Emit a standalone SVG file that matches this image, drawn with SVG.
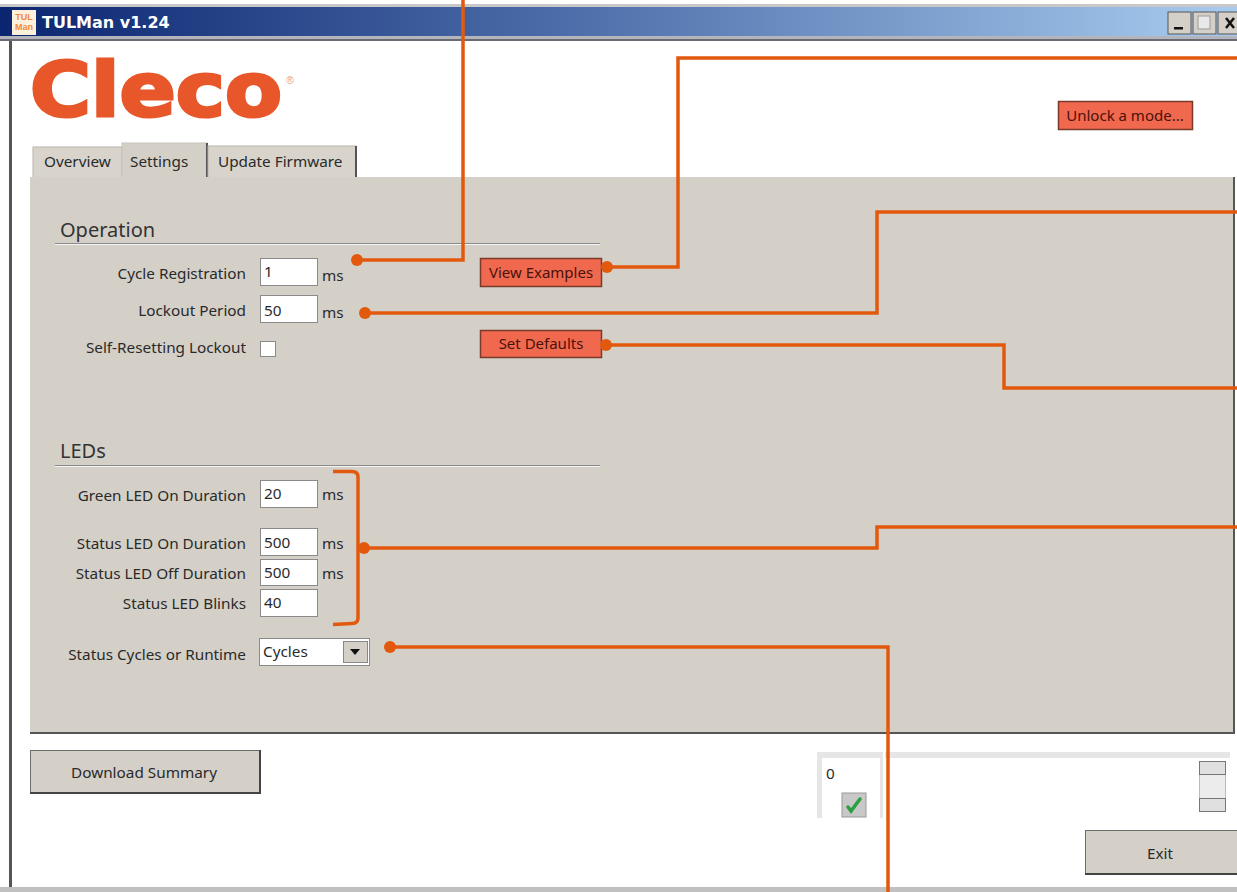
<svg xmlns="http://www.w3.org/2000/svg" width="1237" height="892" viewBox="0 0 1237 892">
<defs>
<linearGradient id="tb" x1="0" y1="0" x2="1" y2="0">
<stop offset="0" stop-color="#0b2570"/>
<stop offset="0.45" stop-color="#4b6ca8"/>
<stop offset="1" stop-color="#a8ccef"/>
</linearGradient>
<style>
.ui{font-family:"Noto Sans","Open Sans","DejaVu Sans",sans-serif;font-size:15.3px;fill:#2a2a2a}
.lbl{text-anchor:end}
.hdr{font-family:"Noto Sans","Open Sans",sans-serif;font-size:20px;fill:#333}
.box{fill:#fff;stroke:#8a8a8a;stroke-width:1}
.btnr{fill:#f0694f;stroke:#7a3a2a;stroke-width:1.5}
.btnrt{font-family:"Noto Sans","Open Sans",sans-serif;font-size:15px;fill:#4a1208;text-anchor:middle}
.btng{fill:#d4d0c8;stroke:#6c6c6c;stroke-width:1}
.conn{fill:none;stroke:#e2590e;stroke-width:3.5;stroke-linejoin:miter}
.dot{fill:#e2590e}
.tab{fill:#d8d4cc;stroke:#b8b4ac;stroke-width:1}
</style>
</defs>
<rect width="1237" height="892" fill="#ffffff"/>
<g id="window">
<rect x="0" y="4" width="1237" height="3" fill="#c8c8c8"/>
<rect x="0" y="7" width="1237" height="30" fill="url(#tb)"/>
<rect x="0" y="36" width="1237" height="3" fill="#b4b4bc"/>
<rect x="0" y="39" width="1237" height="2" fill="#6a6a72"/>
<rect x="9" y="41" width="3" height="847" fill="#555"/>
<rect x="0" y="887" width="1237" height="5" fill="#c0c0c0"/>
<rect x="12" y="10" width="24" height="25" fill="#fbf0dc"/>
<text x="24" y="20" font-family="Liberation Sans,sans-serif" font-size="9" font-weight="bold" fill="#f08a3c" text-anchor="middle">TUL</text>
<text x="24" y="30" font-family="Liberation Sans,sans-serif" font-size="9" font-weight="bold" fill="#f08a3c" text-anchor="middle">Man</text>
<text x="42" y="28" font-family="DejaVu Sans,sans-serif" font-size="16" font-weight="bold" fill="#ffffff">TULMan v1.24</text>
<rect x="1168" y="12" width="23" height="22" fill="#d4d0c8" stroke="#555" stroke-width="1"/>
<rect x="1174" y="27" width="9" height="2.5" fill="#111"/>
<rect x="1193" y="12" width="23" height="22" fill="#d4d0c8" stroke="#555" stroke-width="1"/>
<rect x="1198" y="16" width="12" height="13" fill="#e8e8e8" stroke="#999" stroke-width="1"/>
<rect x="1218" y="12" width="22" height="22" fill="#d4d0c8" stroke="#555" stroke-width="1"/>
<path d="M1226 18 L1234 28 M1234 18 L1226 28" stroke="#111" stroke-width="2.5"/>
</g>
<g id="logo">
<text x="30" y="116" font-family="DejaVu Sans,Liberation Sans,sans-serif" font-size="74" font-weight="bold" fill="#e8572a" stroke="#e8572a" stroke-width="3" textLength="252" lengthAdjust="spacingAndGlyphs">Cleco</text>
<text x="286" y="84" font-family="Liberation Sans,sans-serif" font-size="11" fill="#e8a090">®</text>
</g>
<g id="unlock">
<rect class="btnr" x="1058.5" y="101.5" width="134" height="28"/>
<text class="btnrt" x="1125" y="121">Unlock a mode...</text>
</g>
<g id="tabs">
<rect class="tab" x="33" y="147" width="89" height="31"/>
<text class="ui" x="44" y="167">Overview</text>
<rect x="122" y="143" width="85" height="36" fill="#d4d0c8" stroke="#c8c4bc"/>
<line x1="207" y1="143" x2="207" y2="178" stroke="#555" stroke-width="2"/>
<text class="ui" x="130" y="167">Settings</text>
<rect class="tab" x="208" y="146" width="148" height="32"/>
<line x1="356" y1="146" x2="356" y2="178" stroke="#555" stroke-width="2"/>
<text class="ui" x="218" y="167">Update Firmware</text>
</g>
<g id="panel">
<rect x="30" y="177" width="1203" height="556" fill="#d4d0c8"/>
<line x1="1234" y1="177" x2="1234" y2="734" stroke="#555" stroke-width="2"/>
<line x1="30" y1="733" x2="1234" y2="733" stroke="#555" stroke-width="2"/>
<text class="hdr" x="60" y="237">Operation</text>
<line x1="55" y1="243.5" x2="600" y2="243.5" stroke="#8a8a8a" stroke-width="1"/>
<line x1="55" y1="244.5" x2="600" y2="244.5" stroke="#f4f4f4" stroke-width="1"/>
<text class="hdr" x="60" y="458">LEDs</text>
<line x1="55" y1="465.5" x2="600" y2="465.5" stroke="#8a8a8a" stroke-width="1"/>
<line x1="55" y1="466.5" x2="600" y2="466.5" stroke="#f4f4f4" stroke-width="1"/>
</g>
<g id="cycle-registration">
<text class="ui lbl" x="246" y="279">Cycle Registration</text>
<rect class="box" x="260.5" y="258.5" width="57" height="27"/>
<text class="ui" x="264" y="277">1</text>
<text class="ui" x="322" y="281">ms</text>
</g>
<g id="lockout-period">
<text class="ui lbl" x="246" y="316">Lockout Period</text>
<rect class="box" x="260.5" y="295.5" width="57" height="27"/>
<text class="ui" x="264" y="316">50</text>
<text class="ui" x="322" y="318">ms</text>
</g>
<g id="self-resetting">
<text class="ui lbl" x="246" y="353">Self-Resetting Lockout</text>
<rect class="box" x="260.5" y="341.5" width="15" height="15"/>
</g>
<g id="view-examples">
<rect class="btnr" x="480.5" y="258.5" width="121" height="28"/>
<text class="btnrt" x="541" y="278">View Examples</text>
</g>
<g id="set-defaults">
<rect class="btnr" x="480.5" y="330.5" width="121" height="27"/>
<text class="btnrt" x="541" y="349">Set Defaults</text>
</g>
<g id="green-led">
<text class="ui lbl" x="246" y="501">Green LED On Duration</text>
<rect class="box" x="260.5" y="480.5" width="57" height="27"/>
<text class="ui" x="264" y="499">20</text>
<text class="ui" x="322" y="500">ms</text>
</g>
<g id="status-led-on">
<text class="ui lbl" x="246" y="549">Status LED On Duration</text>
<rect class="box" x="260.5" y="528.5" width="57" height="27"/>
<text class="ui" x="264" y="548">500</text>
<text class="ui" x="322" y="549">ms</text>
</g>
<g id="status-led-off">
<text class="ui lbl" x="246" y="579">Status LED Off Duration</text>
<rect class="box" x="260.5" y="559.5" width="57" height="26"/>
<text class="ui" x="264" y="578">500</text>
<text class="ui" x="322" y="579">ms</text>
</g>
<g id="status-led-blinks">
<text class="ui lbl" x="246" y="609">Status LED Blinks</text>
<rect class="box" x="260.5" y="589.5" width="57" height="27"/>
<text class="ui" x="264" y="608">40</text>
</g>
<g id="status-cycles">
<text class="ui lbl" x="246" y="660">Status Cycles or Runtime</text>
<rect class="box" x="259.5" y="638.5" width="110" height="27"/>
<text class="ui" x="263" y="657">Cycles</text>
<rect x="343.5" y="641.5" width="24" height="21" fill="#d4d0c8" stroke="#888"/>
<path d="M350 649 L360 649 L355 655 Z" fill="#111"/>
</g>
<g id="download-summary">
<rect class="btng" x="30.5" y="750.5" width="229" height="42"/>
<line x1="30" y1="793" x2="260" y2="793" stroke="#444" stroke-width="2"/>
<line x1="260" y1="750" x2="260" y2="794" stroke="#444" stroke-width="2"/>
<text class="ui" x="144" y="778" text-anchor="middle">Download Summary</text>
</g>
<g id="status-box">
<rect x="817" y="752" width="66" height="66" fill="#e6e6e6"/>
<rect x="822" y="758" width="58" height="60" fill="#ffffff"/>
<text class="ui" x="826" y="779">0</text>
<rect x="842" y="793" width="24" height="24" fill="#c8c8c8" stroke="#999"/>
<path d="M848 807 L851 811 L860 799" fill="none" stroke="#2aa040" stroke-width="3.5" stroke-linecap="round"/>
<rect x="885" y="752" width="345" height="6" fill="#e6e6e6"/>
<rect x="1199.5" y="761.5" width="26" height="50" fill="#ececec" stroke="#bbb"/>
<rect x="1199.5" y="761.5" width="26" height="13" fill="#e0e0e0" stroke="#777"/>
<rect x="1199.5" y="798.5" width="26" height="13" fill="#e0e0e0" stroke="#777"/>
</g>
<g id="exit">
<rect class="btng" x="1085.5" y="830.5" width="152" height="43"/>
<line x1="1085" y1="874" x2="1237" y2="874" stroke="#444" stroke-width="2"/>
<text class="ui" x="1160" y="859" text-anchor="middle">Exit</text>
</g>
<g id="led-bracket">
<path class="conn" d="M333 471.5 L352 471.5 Q358 471.5 358 477 L358 618 Q358 623.5 352 623.5 L333 624.5"/>
</g>
<g id="connectors">
<path class="conn" d="M357 260 L463 260 L463 0"/>
<circle class="dot" cx="357" cy="260" r="6"/>
<path class="conn" d="M607 267 L678 267 L678 58 L1237 58"/>
<circle class="dot" cx="607" cy="267" r="6"/>
<path class="conn" d="M365 313 L877 313 L877 212 L1237 212"/>
<circle class="dot" cx="365" cy="313" r="6"/>
<path class="conn" d="M606 345 L1004 345 L1004 388 L1237 388"/>
<circle class="dot" cx="606" cy="345" r="6"/>
<path class="conn" d="M364 548 L877 548 L877 527 L1237 527"/>
<circle class="dot" cx="364" cy="548" r="6"/>
<path class="conn" d="M390 647 L888 647 L888 892"/>
<circle class="dot" cx="390" cy="647" r="6"/>
</g>
</svg>
